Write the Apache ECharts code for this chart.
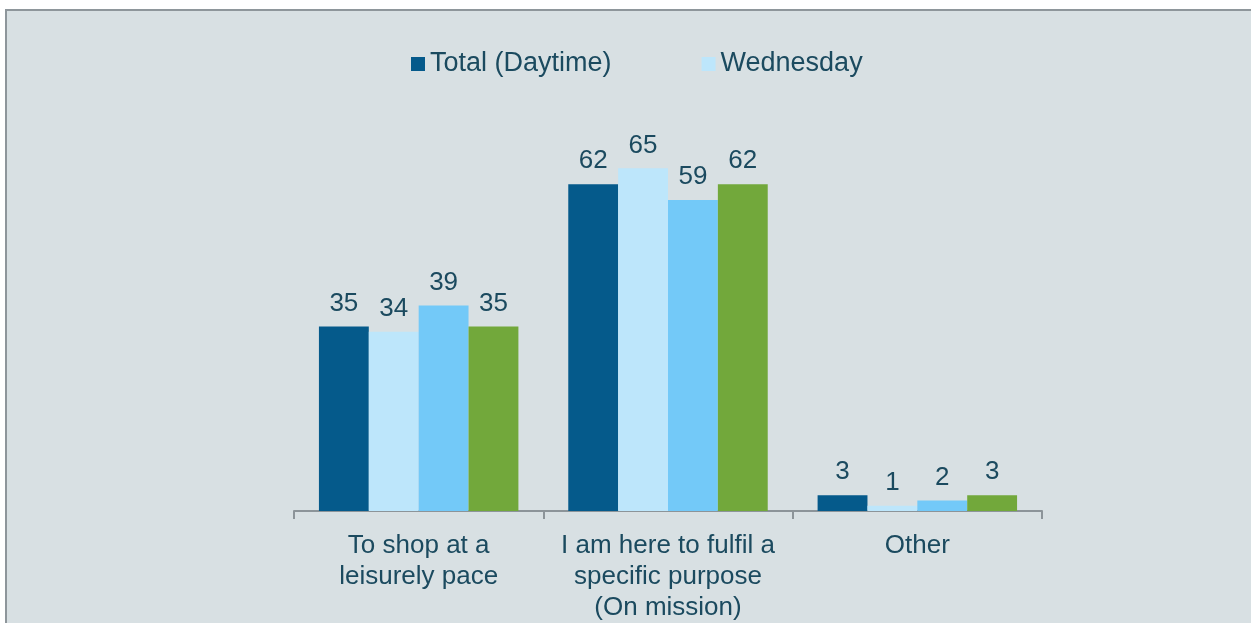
<!DOCTYPE html>
<html>
<head>
<meta charset="utf-8">
<script src="https://cdn.jsdelivr.net/npm/echarts@6/dist/echarts.min.js"></script>
<style>
  body { margin: 0; background: #ffffff; }
  #bg { position: absolute; left: 5px; top: 9px; right: 0; bottom: 0; background: #d8e0e3;
        border-left: 2px solid #8e969b; border-top: 2px solid #8e969b; }
  #chart { position: absolute; left: 0; top: 0; width: 1251px; height: 623px; }
</style>
</head>
<body>
<div id="bg"></div>
<div id="chart"></div>
<script>
var categories = ['To shop at a\nleisurely pace', 'I am here to fulfil a\nspecific purpose\n(On mission)', 'Other'];
var seriesNames = ['Total (Daytime)', 'Wednesday', 'Series 3', 'Series 4'];
var totalDaytime = [35, 62, 3];
var wednesday = [34, 65, 1];
var series3 = [39, 59, 2];
var series4 = [35, 62, 3];
var colors = ['#055a8b', '#bde6fb', '#73c9f8', '#72a83b'];

var textColor = '#1b4a5f';
var chart = echarts.init(document.getElementById('chart'));

function bar(name, values, color) {
    return {
        name: name,
        type: 'bar',
        data: values,
        barGap: 0,
        barCategoryGap: '20%',
        itemStyle: { color: color },
        label: {
            show: true,
            position: 'top',
            distance: 10,
            color: textColor,
            fontSize: 26,
            fontFamily: 'Liberation Sans'
        }
    };
}

option = {
    animation: false,
    textStyle: { fontFamily: 'Liberation Sans' },
    legend: {
        data: [seriesNames[0], seriesNames[1]],
        left: 406,
        top: 45,
        itemWidth: 14,
        itemHeight: 14,
        itemGap: 90,
        icon: 'rect',
        textStyle: { color: textColor, fontSize: 27, lineHeight: 28 }
    },
    grid: { left: 294, right: 209, top: 142, bottom: 111 },
    xAxis: {
        type: 'category',
        data: categories,
        axisLine: { lineStyle: { color: '#8c9499', width: 2 } },
        axisTick: { show: true, length: 8, lineStyle: { color: '#8c9499', width: 2 } },
        axisLabel: { color: textColor, fontSize: 26, lineHeight: 31, margin: 19, interval: 0 }
    },
    yAxis: {
        type: 'value',
        min: 0,
        max: 70,
        show: false,
        splitLine: { show: false }
    },
    series: [
        bar(seriesNames[0], totalDaytime, colors[0]),
        bar(seriesNames[1], wednesday, colors[1]),
        bar(seriesNames[2], series3, colors[2]),
        bar(seriesNames[3], series4, colors[3])
    ]
};
chart.setOption(option);
</script>
</body>
</html>
